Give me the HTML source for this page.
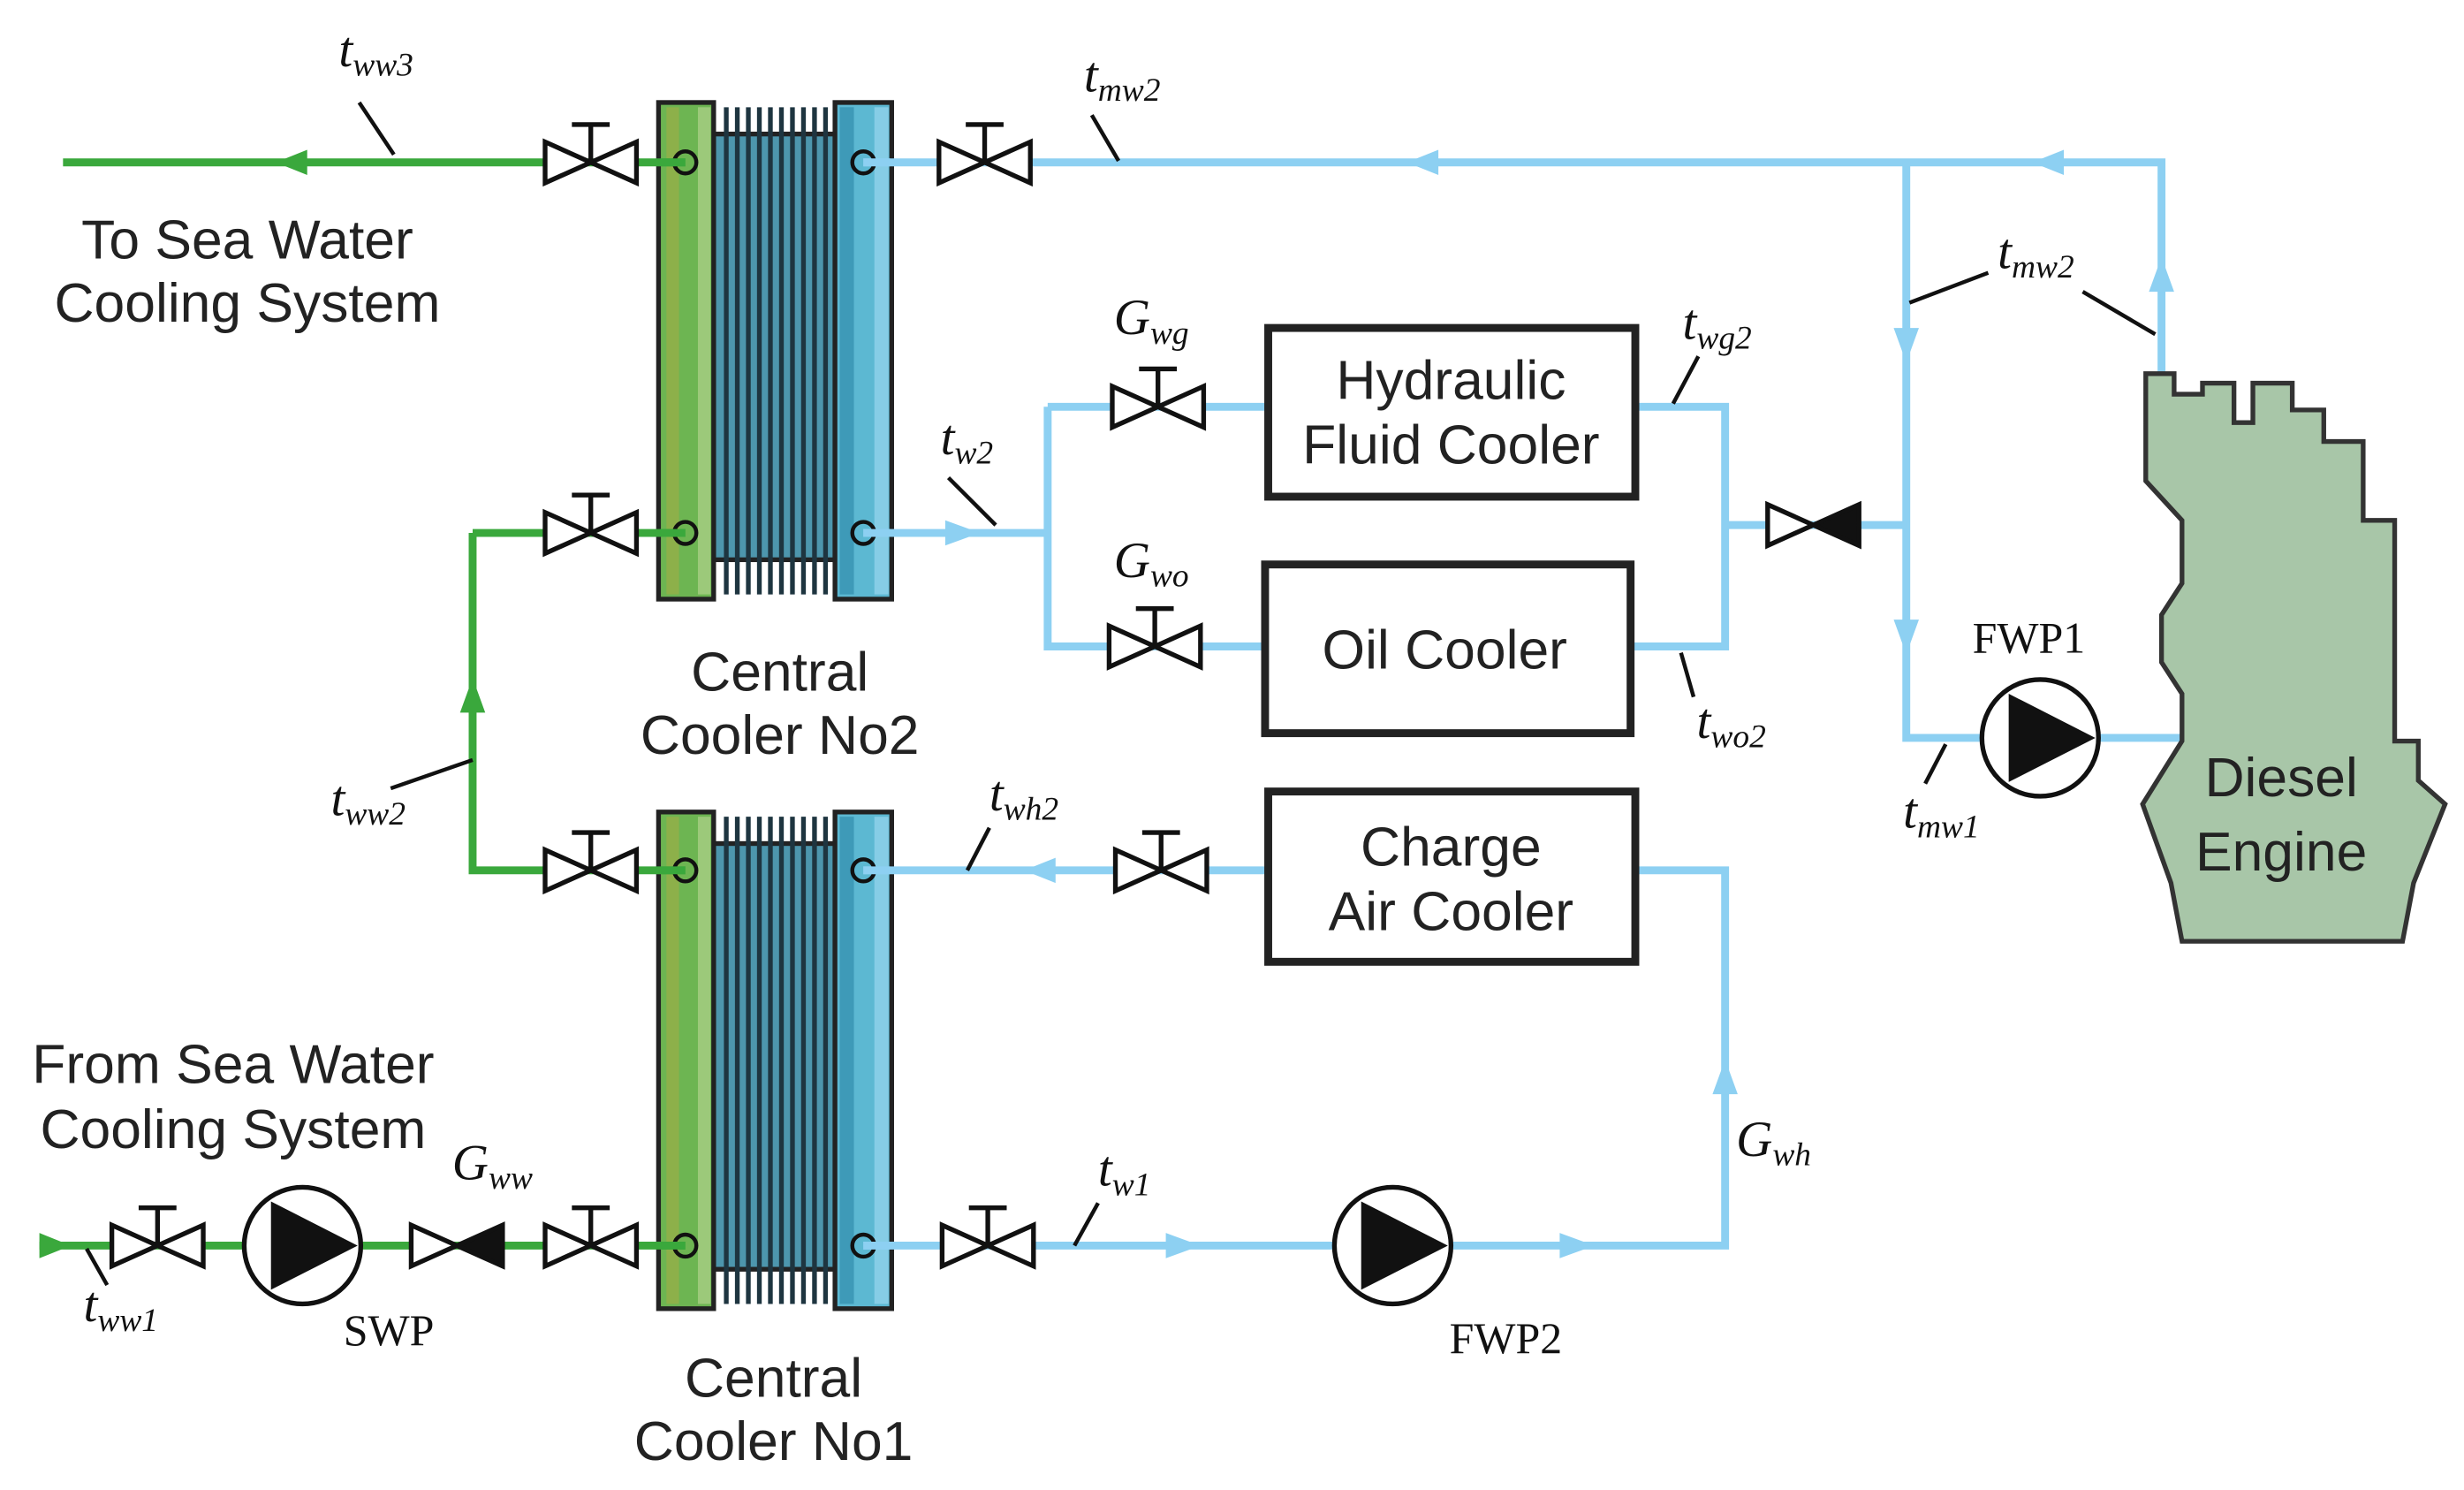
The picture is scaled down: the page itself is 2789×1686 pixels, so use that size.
<!DOCTYPE html>
<html><head><meta charset="utf-8"><style>
html,body{margin:0;padding:0;background:#fff;}
svg{display:block}
.s{font-family:"Liberation Sans",sans-serif;font-size:35px;fill:#222}
.t{font-family:"Liberation Serif",serif;font-style:italic;font-size:32px;fill:#111}
.t tspan.b{font-size:21px}
.p{font-family:"Liberation Serif",serif;font-size:28px;fill:#111}
.g{stroke:#3aa83c;stroke-width:5;fill:none}
.bl{stroke:#8dd0f2;stroke-width:5;fill:none}
.ln{stroke:#111;stroke-width:2.5}
</style></head><body>
<svg width="2789" height="1686" viewBox="0 0 1564 945" preserveAspectRatio="none" xmlns="http://www.w3.org/2000/svg">
<defs>
<g id="valve">
<polygon points="-29,-13 -29,13 29,-13 29,13" fill="#fff" stroke="#111" stroke-width="3"/>
<line x1="0" y1="0" x2="0" y2="-24" stroke="#111" stroke-width="3"/>
<line x1="-12" y1="-24" x2="12" y2="-24" stroke="#111" stroke-width="3"/>
</g>
<g id="check">
<polygon points="-29,-13 -29,13 0,0" fill="#fff" stroke="#111" stroke-width="3"/>
<polygon points="29,-13 29,13 0,0" fill="#111" stroke="#111" stroke-width="3"/>
</g>
<g id="pump">
<circle r="37" fill="#fff" stroke="#111" stroke-width="3"/>
<polygon points="-20,-28 -20,28 35,0" fill="#111"/>
</g>
<g id="cooler">
<rect x="453" y="20" width="77" height="270" fill="#4d96ad" stroke="#222" stroke-width="3"/>
<g stroke="#1e3540" stroke-width="3">
<line x1="461" y1="3" x2="461" y2="312"/><line x1="468" y1="3" x2="468" y2="312"/>
<line x1="475" y1="3" x2="475" y2="312"/><line x1="482" y1="3" x2="482" y2="312"/>
<line x1="489" y1="3" x2="489" y2="312"/><line x1="496" y1="3" x2="496" y2="312"/>
<line x1="503" y1="3" x2="503" y2="312"/><line x1="510" y1="3" x2="510" y2="312"/>
<line x1="517" y1="3" x2="517" y2="312"/><line x1="524" y1="3" x2="524" y2="312"/>
</g>
<rect x="418" y="0" width="35" height="315" fill="#6db552" stroke="#222" stroke-width="3"/>
<rect x="423" y="3" width="8" height="309" fill="#8db04a"/>
<rect x="443" y="3" width="8" height="309" fill="#9cc97a"/>
<rect x="530" y="0" width="36" height="315" fill="#5cb8d2" stroke="#222" stroke-width="3"/>
<rect x="533" y="3" width="9" height="309" fill="#3e9ab8"/>
<rect x="555" y="3" width="9" height="309" fill="#86cde6"/>
</g>
</defs>

<use href="#cooler" transform="translate(0,65)"/>
<use href="#cooler" transform="translate(0,515)"/>

<path class="g" d="M40,103 H435"/>
<path class="g" d="M300,338 H435 M300,338 V552 H435"/>
<path class="g" d="M25,790 H435"/>
<polygon points="175,103 195,95 195,111" fill="#3aa83c"/>
<polygon points="300,430 292,452 308,452" fill="#3aa83c"/>
<polygon points="45,790 25,782 25,798" fill="#3aa83c"/>

<path class="bl" d="M548,103 H1372 V240"/>
<path class="bl" d="M1210,103 V468 H1385"/>
<path class="bl" d="M1095,333 H1210"/>
<path class="bl" d="M1038,258 H1095 V410 H1035"/>
<path class="bl" d="M548,338 H665 M665,258 V410 H803 M665,258 H805"/>
<path class="bl" d="M548,552 H805 M1038,552 H1095 V790 H548"/>
<g fill="#8dd0f2">
<polygon points="893,103 913,95 913,111"/>
<polygon points="1290,103 1310,95 1310,111"/>
<polygon points="1372,163 1364,185 1380,185"/>
<polygon points="1210,230 1202,208 1218,208"/>
<polygon points="1210,415 1202,393 1218,393"/>
<polygon points="622,338 600,330 600,346"/>
<polygon points="650,552 670,544 670,560"/>
<polygon points="1095,672 1087,694 1103,694"/>
<polygon points="762,790 740,782 740,798"/>
<polygon points="1012,790 990,782 990,798"/>
</g>

<g fill="none" stroke="#111" stroke-width="2.5">
<circle cx="435" cy="103" r="7"/><circle cx="435" cy="338" r="7"/>
<circle cx="435" cy="552" r="7"/><circle cx="435" cy="790" r="7"/>
<circle cx="548" cy="103" r="7"/><circle cx="548" cy="338" r="7"/>
<circle cx="548" cy="552" r="7"/><circle cx="548" cy="790" r="7"/>
</g>
<path class="g" d="M420,103 H435 M420,338 H435 M420,552 H435 M420,790 H435"/>
<path class="bl" d="M548,103 H565 M548,338 H565 M548,552 H565 M548,790 H565"/>

<use href="#valve" x="375" y="103"/>
<use href="#valve" x="625" y="103"/>
<use href="#valve" x="375" y="338"/>
<use href="#valve" x="375" y="552"/>
<use href="#valve" x="735" y="258"/>
<use href="#valve" x="733" y="410"/>
<use href="#valve" x="737" y="552"/>
<use href="#valve" x="100" y="790"/>
<use href="#valve" x="375" y="790"/>
<use href="#valve" x="627" y="790"/>
<use href="#check" x="1151" y="333"/>
<use href="#check" x="290" y="790"/>
<use href="#pump" x="1295" y="468"/>
<use href="#pump" x="884" y="790"/>
<use href="#pump" x="192" y="790"/>

<rect x="805" y="208" width="233" height="107" fill="#fff" stroke="#222" stroke-width="5"/>
<rect x="803" y="358" width="232" height="107" fill="#fff" stroke="#222" stroke-width="5"/>
<rect x="805" y="502" width="233" height="108" fill="#fff" stroke="#222" stroke-width="5"/>
<text class="s" x="921" y="253" text-anchor="middle">Hydraulic</text>
<text class="s" x="921" y="294" text-anchor="middle">Fluid Cooler</text>
<text class="s" x="917" y="424" text-anchor="middle">Oil Cooler</text>
<text class="s" x="921" y="549" text-anchor="middle">Charge</text>
<text class="s" x="921" y="590" text-anchor="middle">Air Cooler</text>

<polygon points="1362,237 1380,237 1380,250 1398,250 1398,243 1418,243 1418,268 1430,268 1430,243 1455,243 1455,260 1475,260 1475,280 1500,280 1500,330 1520,330 1520,470 1535,470 1535,495 1552,510 1532,560 1525,597 1385,597 1378,560 1360,510 1385,470 1385,440 1372,420 1372,390 1385,370 1385,330 1362,305" fill="#a8c6a8" stroke="#333" stroke-width="3"/>
<text class="s" x="1448" y="505" text-anchor="middle">Diesel</text>
<text class="s" x="1448" y="552" text-anchor="middle">Engine</text>

<text class="s" x="157" y="164" text-anchor="middle">To Sea Water</text>
<text class="s" x="157" y="204" text-anchor="middle">Cooling System</text>
<text class="s" x="148" y="687" text-anchor="middle">From Sea Water</text>
<text class="s" x="148" y="728" text-anchor="middle">Cooling System</text>
<text class="s" x="495" y="438" text-anchor="middle">Central</text>
<text class="s" x="495" y="478" text-anchor="middle">Cooler No2</text>
<text class="s" x="491" y="886" text-anchor="middle">Central</text>
<text class="s" x="491" y="926" text-anchor="middle">Cooler No1</text>
<text class="p" x="218" y="853">SWP</text>
<text class="p" x="920" y="858">FWP2</text>
<text class="p" x="1252" y="414">FWP1</text>

<text class="t" x="215" y="42">t<tspan class="b" dy="6">ww3</tspan></text>
<line class="ln" x1="228" y1="65" x2="250" y2="98"/>
<text class="t" x="688" y="58">t<tspan class="b" dy="6">mw2</tspan></text>
<line class="ln" x1="693" y1="73" x2="710" y2="102"/>
<text class="t" x="1268" y="170">t<tspan class="b" dy="6">mw2</tspan></text>
<line class="ln" x1="1262" y1="173" x2="1212" y2="192"/>
<line class="ln" x1="1322" y1="185" x2="1368" y2="212"/>
<text class="t" x="707" y="212">G<tspan class="b" dy="6">wg</tspan></text>
<text class="t" x="707" y="366">G<tspan class="b" dy="6">wo</tspan></text>
<text class="t" x="1068" y="215">t<tspan class="b" dy="6">wg2</tspan></text>
<line class="ln" x1="1078" y1="226" x2="1062" y2="256"/>
<text class="t" x="597" y="288">t<tspan class="b" dy="6">w2</tspan></text>
<line class="ln" x1="602" y1="303" x2="632" y2="333"/>
<text class="t" x="1077" y="468">t<tspan class="b" dy="6">wo2</tspan></text>
<line class="ln" x1="1075" y1="442" x2="1067" y2="414"/>
<text class="t" x="1208" y="525">t<tspan class="b" dy="6">mw1</tspan></text>
<line class="ln" x1="1222" y1="497" x2="1235" y2="472"/>
<text class="t" x="210" y="517">t<tspan class="b" dy="6">ww2</tspan></text>
<line class="ln" x1="248" y1="500" x2="300" y2="482"/>
<text class="t" x="628" y="514">t<tspan class="b" dy="6">wh2</tspan></text>
<line class="ln" x1="628" y1="525" x2="614" y2="552"/>
<text class="t" x="1102" y="733">G<tspan class="b" dy="6">wh</tspan></text>
<text class="t" x="287" y="748">G<tspan class="b" dy="6">ww</tspan></text>
<text class="t" x="697" y="752">t<tspan class="b" dy="6">w1</tspan></text>
<line class="ln" x1="697" y1="763" x2="682" y2="790"/>
<text class="t" x="53" y="838">t<tspan class="b" dy="6">ww1</tspan></text>
<line class="ln" x1="68" y1="815" x2="55" y2="792"/>
</svg>
</body></html>
